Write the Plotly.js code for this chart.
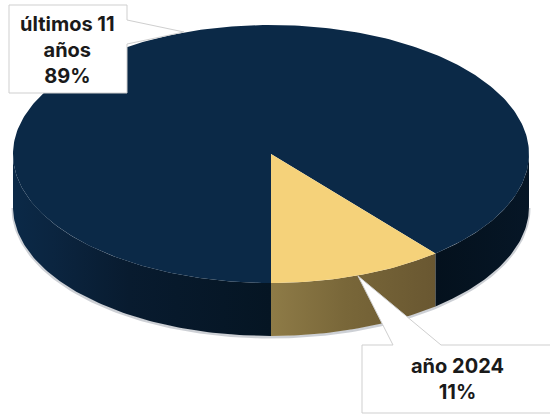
<!DOCTYPE html>
<html>
<head>
<meta charset="utf-8">
<script src="https://cdn.plot.ly/plotly-3.0.1.min.js"></script>
<style>html,body{margin:0;padding:0;background:#fff}#chart{width:550px;height:415px}</style>
</head>
<body>
<div id="chart"></div>
<script>
// Share of the total per period
const periodLines = [["últimos 11", "años"], ["año 2024"]];
const shares = [89, 11];

// Disc geometry in plot units (the axes run 1:1 with the page)
const cx = 271, cy = 154, rx = 258, ry = 129, depth = 53;

const total = shares[0] + shares[1];
const recentFrac = shares[1] / total;

// Point on the rim; the fraction runs from 6 o'clock towards the right
function rim(f, drop) {
  const t = 2 * Math.PI * f;
  return [cx + rx * Math.sin(t), cy + ry * Math.cos(t) + (drop || 0)];
}
function arc(f0, f1, drop) {
  const pts = [];
  const n = Math.max(8, Math.round(Math.abs(f1 - f0) * 360));
  for (let i = 0; i <= n; i++) pts.push(rim(f0 + (f1 - f0) * i / n, drop));
  return pts;
}
function poly(pts, extra) {
  return Object.assign({
    type: "scatter", mode: "lines", fill: "toself", hoverinfo: "skip",
    x: pts.map(p => p[0]), y: pts.map(p => p[1]),
    line: { width: 0 }, showlegend: false
  }, extra);
}
function wall(f0, f1) {
  return arc(f0, f1, 0).concat(arc(f1, f0, depth));
}
function grad(stops) {
  return { type: "horizontal", colorscale: stops };
}

const traces = [
  // soft rim below the disc
  { type: "scatter", mode: "lines", hoverinfo: "skip", showlegend: false,
    x: arc(0.75, 1.25, depth + 1).map(p => p[0]), y: arc(0.75, 1.25, depth + 1).map(p => p[1]),
    line: { color: "rgba(90,100,115,0.3)", width: 3 } },
  // side walls
  poly(wall(0.75, 1), { fillgradient: grad([[0, "#0b2947"], [0.15, "#0b2540"], [0.45, "#081b2f"], [1, "#051523"]]) }),
  poly(wall(0, recentFrac), { fillgradient: grad([[0, "#8e7b47"], [0.45, "#796739"], [1, "#695731"]]) }),
  poly(wall(recentFrac, 0.25), { fillgradient: grad([[0, "#04111d"], [1, "#061626"]]) }),
  // top faces
  poly([[cx, cy]].concat(arc(recentFrac, 1)), { fillcolor: "#0b2947" }),
  poly([[cx, cy]].concat(arc(0, recentFrac)), { fillcolor: "#f5d27a" })
];

// Callout outlines: box plus a wedge pointing at the slice
const calloutStyle = { type: "path", xref: "x", yref: "y", fillcolor: "#ffffff",
  line: { color: "#cfcfcf", width: 1 } };
const shapes = [
  Object.assign({}, calloutStyle, { path: "M9,5 L127,5 L127,20 L184,32 L127,44 L127,93 L9,93 Z" }),
  Object.assign({}, calloutStyle, { path: "M362,345 L393,345 L358,276 L441,345 L552,345 L552,413 L362,413 Z" })
];

function label(i, x, y) {
  return {
    xref: "x", yref: "y", x: x, y: y, showarrow: false, align: "center",
    text: periodLines[i].concat(shares[i] + "%").map(s => "<b>" + s + "</b>").join("<br>"),
    font: { family: "Inter, 'Open Sans', sans-serif", size: 20, color: "#1a1a1a" }
  };
}

Plotly.newPlot("chart", traces, {
  width: 550, height: 415,
  margin: { l: 0, r: 0, t: 0, b: 0 },
  paper_bgcolor: "#ffffff", plot_bgcolor: "#ffffff",
  xaxis: { range: [0, 550], visible: false, fixedrange: true },
  yaxis: { range: [415, 0], visible: false, fixedrange: true },
  shapes: shapes,
  annotations: [label(0, 67, 50), label(1, 457, 379)]
}, { displayModeBar: false, staticPlot: true });
</script>
</body>
</html>
